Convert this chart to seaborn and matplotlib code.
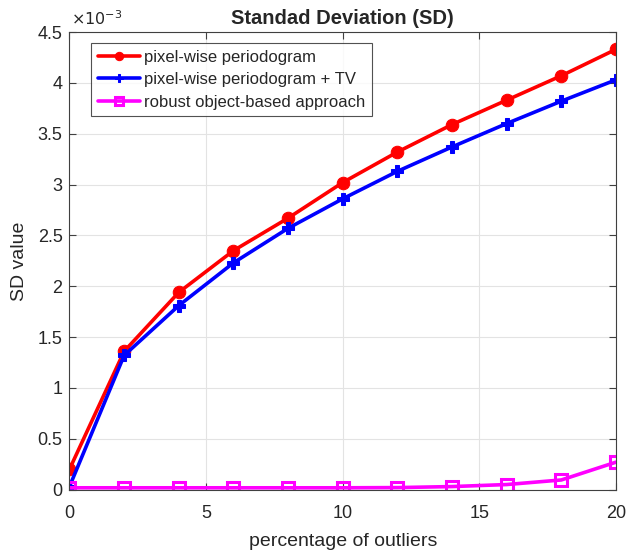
import matplotlib
matplotlib.use("Agg")
import matplotlib.pyplot as plt
import seaborn as sns
import numpy as np
import pandas as pd
from matplotlib.ticker import FuncFormatter, MultipleLocator

outliers = [0, 2, 4, 6, 8, 10, 12, 14, 16, 18, 20]
sd_pixel = [0.20e-3, 1.36e-3, 1.94e-3, 2.35e-3, 2.67e-3, 3.02e-3, 3.32e-3, 3.59e-3, 3.83e-3, 4.07e-3, 4.33e-3]
sd_pixel_tv = [0.03e-3, 1.32e-3, 1.81e-3, 2.23e-3, 2.57e-3, 2.86e-3, 3.13e-3, 3.37e-3, 3.60e-3, 3.82e-3, 4.03e-3]
sd_robust = [0.018e-3, 0.018e-3, 0.018e-3, 0.018e-3, 0.018e-3, 0.018e-3, 0.02e-3, 0.03e-3, 0.05e-3, 0.095e-3, 0.27e-3]
labels = ["pixel-wise periodogram", "pixel-wise periodogram + TV", "robust object-based approach"]

sns.set_theme(style="whitegrid")
plt.rcParams['font.family'] = ['Liberation Sans', 'DejaVu Sans']

fig = plt.figure(figsize=(6.26, 5.52), dpi=100)
ax = fig.add_axes([0.111, 0.113, 0.873, 0.829])

sns.lineplot(x=outliers, y=sd_pixel, ax=ax, color="#ff0000", lw=2.6, marker="o",
             markersize=9, markeredgecolor="#ff0000", label=labels[0])
sns.lineplot(x=outliers, y=sd_pixel_tv, ax=ax, color="#0000ff", lw=2.6, marker="P",
             markersize=9, markeredgecolor="#0000ff", label=labels[1])
sns.lineplot(x=outliers, y=sd_robust, ax=ax, color="#ff00ff", lw=2.6, marker="s",
             markersize=8, markerfacecolor="none", markeredgecolor="#ff00ff",
             markeredgewidth=2.2, label=labels[2])

ax.set_xlim(0, 20)
ax.set_ylim(0, 4.5e-3)
ax.xaxis.set_major_locator(MultipleLocator(5))
ax.yaxis.set_major_locator(MultipleLocator(0.5e-3))
ax.yaxis.set_major_formatter(FuncFormatter(lambda v, p: "%g" % round(v * 1e3, 3)))

ax.set_facecolor("white")
ax.grid(True, color="#e3e3e3", lw=0.8)
for s in ax.spines.values():
    s.set_color("#404040")
    s.set_linewidth(0.8)
ax.tick_params(direction="in", length=5, width=0.8, colors="#404040",
               labelsize=13, top=True, right=True, bottom=True, left=True)
ax.tick_params(axis="both", labelcolor="#262626")
ax.tick_params(axis="x", pad=11)
ax.tick_params(axis="y", pad=5)

ax.set_title("Standad Deviation (SD)", fontsize=14.5, fontweight="bold", pad=6)
ax.set_xlabel("percentage of outliers", fontsize=14, color="#262626", labelpad=8)
ax.set_ylabel("SD value", fontsize=14, color="#262626", labelpad=7)
ax.text(0.003, 1.008, r"$\times10^{-3}$", transform=ax.transAxes, fontsize=11.5,
        color="#262626", ha="left", va="bottom")

leg = ax.legend(loc="upper left", bbox_to_anchor=(0.040, 0.976), borderaxespad=0,
                fontsize=12, frameon=True, fancybox=False, edgecolor="#262626",
                handlelength=2.5, borderpad=0.4, labelspacing=0.45, handletextpad=0.25)
leg.get_frame().set_linewidth(0.8)
for h in leg.legend_handles:
    h.set_markersize(6)

fig.savefig("out.png", dpi=100, facecolor="white")
